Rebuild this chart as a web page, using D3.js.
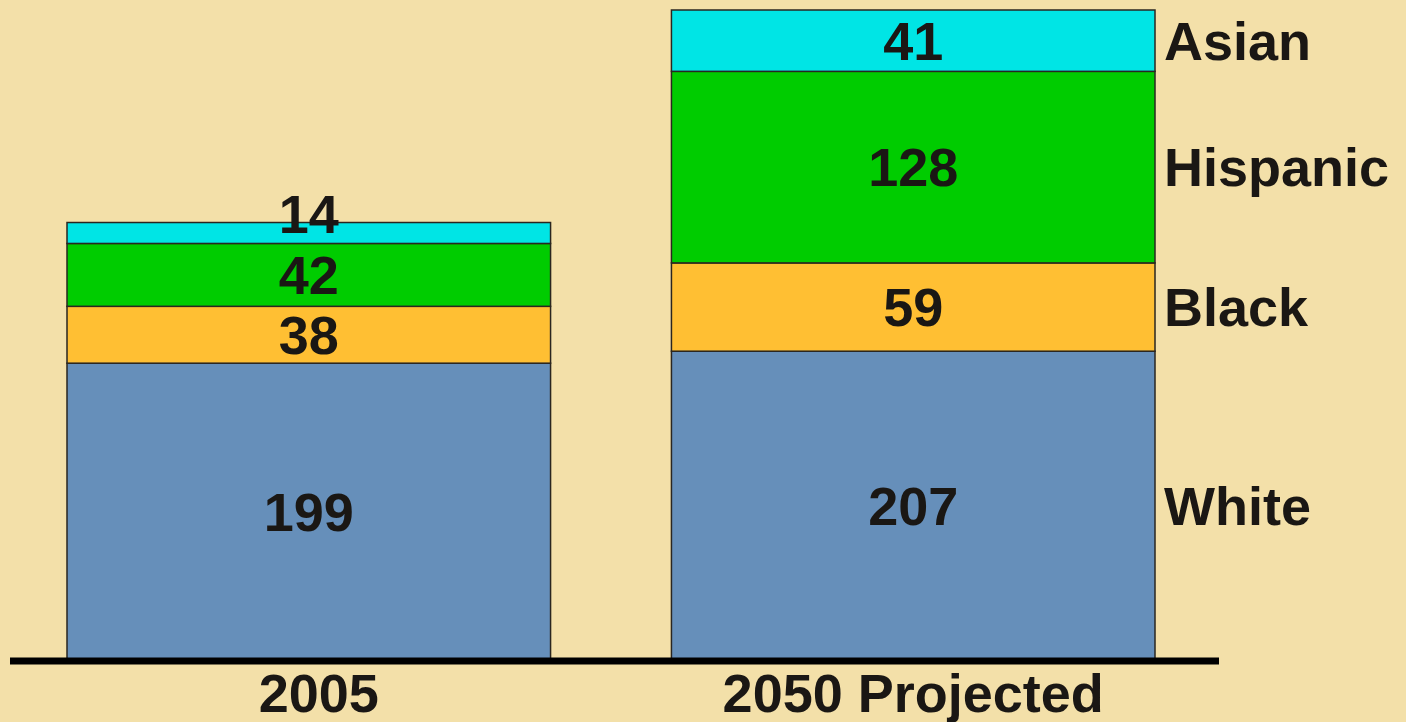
<!DOCTYPE html>
<html>
<head>
<meta charset="utf-8">
<script src="https://cdn.jsdelivr.net/npm/d3@7"></script>
<style>
  html, body { margin: 0; padding: 0; background: #f3e0a9; }
  svg { display: block; }
  text { font-family: "Liberation Sans", Arial, Helvetica, sans-serif; font-weight: bold; fill: #1a1714; }
</style>
</head>
<body>
<div id="chart"></div>
<script>
let width = 1406
let height = 722

// categories and series (millions)
let years = ['2005', '2050 Projected']
let groups = ['White', 'Black', 'Hispanic', 'Asian']
let white = [199, 207]
let black = [38, 59]
let hispanic = [42, 128]
let asian = [14, 41]

let colors = {
  'White': '#668fba',
  'Black': '#ffbf33',
  'Hispanic': '#00cc00',
  'Asian': '#00e5e5'
}

let rows = years.map((y, i) => {
  return { year: y, White: white[i], Black: black[i], Hispanic: hispanic[i], Asian: asian[i] }
})

let stack = d3.stack().keys(groups)
let series = stack(rows)

let xScale = d3.scaleBand()
  .domain(years)
  .range([67, 1155])
  .paddingInner(0.2)
  .paddingOuter(0)

let yScale = d3.scaleLinear()
  .domain([0, 435])
  .range([661, 10])

let svg = d3.select('#chart').append('svg')
  .attr('width', width)
  .attr('height', height)

svg.append('rect')
  .attr('width', width)
  .attr('height', height)
  .attr('fill', '#f3e0a9')

let layers = svg.selectAll('g.layer')
  .data(series)
  .enter().append('g')
  .attr('class', 'layer')
  .attr('fill', (d) => colors[d.key])

layers.selectAll('rect')
  .data((d) => d)
  .enter().append('rect')
  .attr('x', (d) => xScale(d.data.year))
  .attr('y', (d) => yScale(d[1]))
  .attr('width', xScale.bandwidth())
  .attr('height', (d) => yScale(d[0]) - yScale(d[1]))
  .attr('stroke', '#2a2620')
  .attr('stroke-width', 1.5)

// value labels (thin segments get the label sitting on top of the bar)
layers.selectAll('text')
  .data((d) => d)
  .enter().append('text')
  .attr('x', (d) => xScale(d.data.year) + xScale.bandwidth() / 2)
  .attr('y', (d) => {
    let h = yScale(d[0]) - yScale(d[1])
    if (h < 40) return yScale(d[1]) + 10
    return (yScale(d[0]) + yScale(d[1])) / 2 + 19
  })
  .attr('text-anchor', 'middle')
  .style('font-size', '54px')
  .text((d) => d[1] - d[0])

// group names beside the right bar
let last = years[years.length - 1]
svg.selectAll('text.group')
  .data(series)
  .enter().append('text')
  .attr('class', 'group')
  .attr('x', xScale(last) + xScale.bandwidth() + 9)
  .attr('y', (d) => {
    let p = d[d.length - 1]
    return (yScale(p[0]) + yScale(p[1])) / 2 + 19
  })
  .style('font-size', '54px')
  .text((d) => d.key)

// baseline
svg.append('line')
  .attr('x1', 10)
  .attr('x2', 1219)
  .attr('y1', yScale(0))
  .attr('y2', yScale(0))
  .attr('stroke', '#000')
  .attr('stroke-width', 7)

// category labels
svg.selectAll('text.year')
  .data(years)
  .enter().append('text')
  .attr('class', 'year')
  .attr('x', (d) => xScale(d) + xScale.bandwidth() / 2 + (d === '2005' ? 10 : 0))
  .attr('y', 712)
  .attr('text-anchor', 'middle')
  .style('font-size', '54px')
  .text((d) => d)
</script>
</body>
</html>
